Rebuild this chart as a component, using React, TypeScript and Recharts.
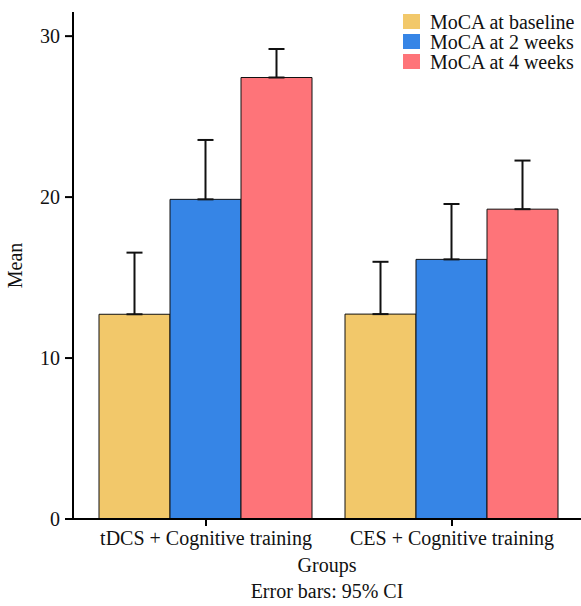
import React from 'react';
import { BarChart, Bar, XAxis, YAxis, ErrorBar, Legend } from 'recharts';

const groups = ['tDCS + Cognitive training', 'CES + Cognitive training'];
const seriesNames = ['MoCA at baseline', 'MoCA at 2 weeks', 'MoCA at 4 weeks'];
const baselineMean = [12.72, 12.73];
const baselineUpper = [16.55, 15.98];
const week2Mean = [19.86, 16.13];
const week2Upper = [23.55, 19.57];
const week4Mean = [27.43, 19.25];
const week4Upper = [29.2, 22.27];
const yTicks = [0, 10, 20, 30];

const colors = ['#F2C86A', '#3685E6', '#FE7479'];
const FONT = '"Liberation Serif", "Times New Roman", serif';

const data = groups.map((g, i) => ({
  group: g,
  base: baselineMean[i],
  baseErr: [0, baselineUpper[i] - baselineMean[i]],
  w2: week2Mean[i],
  w2Err: [0, week2Upper[i] - week2Mean[i]],
  w4: week4Mean[i],
  w4Err: [0, week4Upper[i] - week4Mean[i]],
}));

const LegendContent = () => (
  <div style={{ fontFamily: FONT, fontSize: 20, color: '#111' }}>
    {seriesNames.map((n, i) => (
      <div key={n} style={{ display: 'flex', alignItems: 'flex-end', height: 20, lineHeight: '20px' }}>
        <div style={{ width: 17, height: 15, background: colors[i], marginRight: 10, marginBottom: 1 }} />
        <span style={{ position: 'relative', top: 2, whiteSpace: 'nowrap' }}>{n}</span>
      </div>
    ))}
  </div>
);

const XLabel = (props: any) => {
  const vb = props.viewBox || {};
  const cx = vb.x + vb.width / 2;
  return (
    <g>
      <text x={cx} y={vb.y + 53} textAnchor="middle" fontFamily={FONT} fontSize={20} fill="#111">Groups</text>
      <text x={cx} y={vb.y + 79} textAnchor="middle" fontFamily={FONT} fontSize={20} fill="#111">Error bars: 95% CI</text>
    </g>
  );
};

const YLabel = (props: any) => {
  const vb = props.viewBox || {};
  const cy = vb.y + vb.height / 2;
  return (
    <text x={0} y={0} transform={`translate(22, ${cy}) rotate(-90)`} textAnchor="middle" fontFamily={FONT} fontSize={20} fill="#111">Mean</text>
  );
};

export default function App() {
  return (
    <div style={{ position: 'absolute', left: 0, top: 0, width: 581, height: 606, background: '#fff', fontFamily: FONT }}>
      <BarChart
        width={581}
        height={606}
        data={data}
        margin={{ top: 12, right: 0, bottom: 0, left: 0 }}
        barCategoryGap={16}
        barGap={0}
        style={{ fontFamily: FONT }}
      >
        <XAxis
          dataKey="group"
          height={87}
          interval={0}
          padding={{ left: 10, right: 6 }}
          axisLine={{ stroke: '#000', strokeWidth: 2 }}
          tickLine={{ stroke: '#000', strokeWidth: 2 }}
          tickSize={7}
          tickMargin={5}
          tick={{ fontFamily: FONT, fontSize: 20, fill: '#111' }}
          label={<XLabel />}
        />
        <YAxis
          width={73}
          domain={[0, 31.5]}
          ticks={yTicks}
          allowDataOverflow
          axisLine={{ stroke: '#000', strokeWidth: 2 }}
          tickLine={{ stroke: '#000', strokeWidth: 2 }}
          tickSize={8}
          tickMargin={5}
          tick={{ fontFamily: FONT, fontSize: 20, fill: '#111' }}
          label={<YLabel />}
        />
        <Legend
          verticalAlign="middle"
          align="center"
          layout="horizontal"
          content={<LegendContent />}
          wrapperStyle={{ position: 'absolute', left: 403, top: 10, width: 178, height: 62 }}
        />
        <Bar dataKey="base" name={seriesNames[0]} fill={colors[0]} stroke="#111" strokeWidth={1} isAnimationActive={false}>
          <ErrorBar dataKey="baseErr" width={8} stroke="#111" strokeWidth={2} direction="y" />
        </Bar>
        <Bar dataKey="w2" name={seriesNames[1]} fill={colors[1]} stroke="#111" strokeWidth={1} isAnimationActive={false}>
          <ErrorBar dataKey="w2Err" width={8} stroke="#111" strokeWidth={2} direction="y" />
        </Bar>
        <Bar dataKey="w4" name={seriesNames[2]} fill={colors[2]} stroke="#111" strokeWidth={1} isAnimationActive={false}>
          <ErrorBar dataKey="w4Err" width={8} stroke="#111" strokeWidth={2} direction="y" />
        </Bar>
      </BarChart>
    </div>
  );
}
